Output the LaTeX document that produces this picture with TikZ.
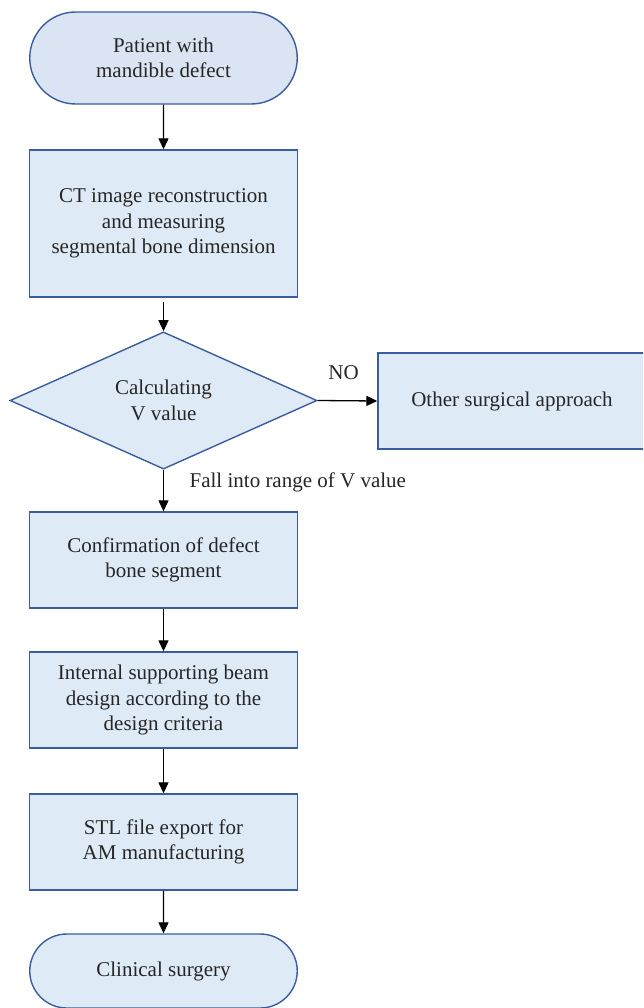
\documentclass[tikz,border=0pt]{standalone}
\usepackage{fontspec}
\setmainfont{Liberation Serif}
\usetikzlibrary{arrows.meta,shapes.geometric,shapes.misc}
\definecolor{boxfill}{HTML}{DEEAF6}
\definecolor{termfill}{HTML}{DAE4F2}
\definecolor{boxline}{HTML}{3A5DA0}
\definecolor{txt}{HTML}{262626}
\begin{document}
\begin{tikzpicture}[x=1pt,y=-1pt,
  every node/.style={font=\fontsize{21}{25.5}\selectfont, text=txt},
  base/.style={draw=boxline, line width=1.4pt, fill=boxfill, align=center, inner sep=0pt},
  procbox/.style={base, rectangle, minimum width=267.5pt, minimum height=96pt},
  terminal/.style={base, rounded rectangle, minimum width=267.5pt},
  decision/.style={base, diamond, minimum width=307pt, minimum height=137pt},
  flow/.style={draw=black, line width=1.3pt, -{Triangle[length=11pt,width=10pt]}},
  lbl/.style={inner sep=0pt, text=txt}
]
\useasboundingbox (0,0) rectangle (643,1008);
\fill[white] (0,0) rectangle (643,1008);
\clip (0,0) rectangle (643,1008);

% flow chart blocks
\node[terminal, fill=termfill, minimum height=92pt] (start) at (163.5,58)
  {Patient with\\mandible defect};
\node[procbox, minimum height=147pt] (ct) at (163.5,223.5)
  {CT image reconstruction\\and measuring\\segmental bone dimension};
\node[decision] (calc) at (163.5,400.5) {Calculating\\V value};
\node[procbox, minimum width=268pt] (other) at (512,401) {Other surgical approach};
\node[procbox] (confirm) at (163.5,560) {Confirmation of defect\\bone segment};
\node[procbox] (beam) at (163.5,700)
  {Internal supporting beam\\design according to the\\design criteria};
\node[procbox] (stl) at (163.5,842) {STL file export for\\AM manufacturing};
\node[terminal, minimum height=74pt] (surgery) at (163.5,971) {Clinical surgery};

% connectors
\draw[flow] (start) -- (ct);
\draw[flow, shorten <=4pt] (ct) -- (calc);
\draw[flow] (calc.east) -- (other.west)
  node[midway, above=20pt, xshift=-4pt, lbl] {NO};
\draw[flow] (calc) -- (confirm)
  node[pos=0.42, anchor=base west, xshift=25.5pt, lbl] {Fall into range of V value};
\draw[flow] (confirm) -- (beam);
\draw[flow] (beam) -- (stl);
\draw[flow] (stl) -- (surgery);
\end{tikzpicture}
\end{document}
